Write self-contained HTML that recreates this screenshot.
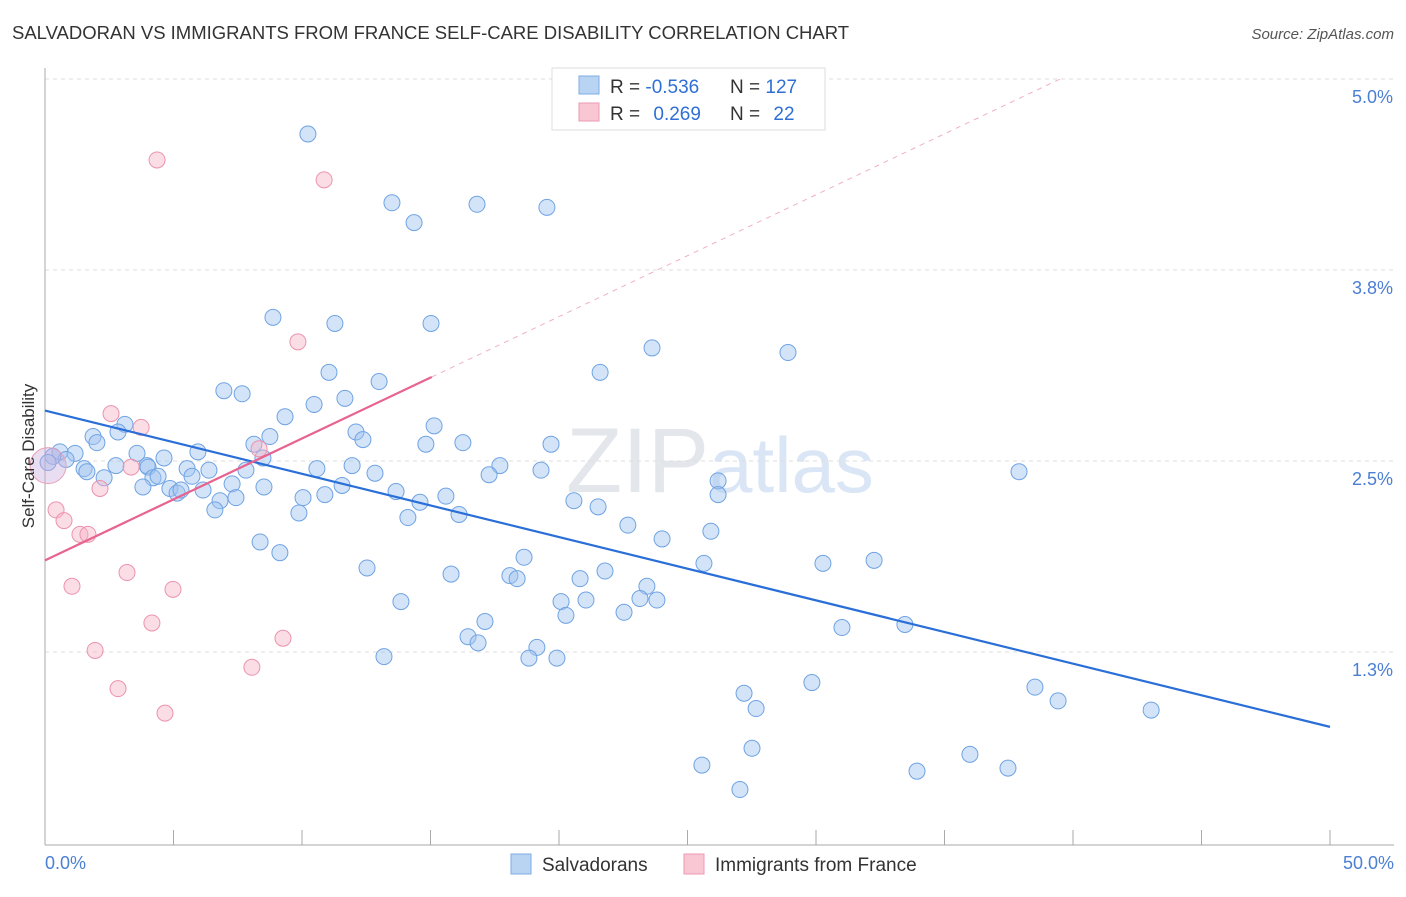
<!DOCTYPE html>
<html><head><meta charset="utf-8"><style>
body{margin:0;background:#fff;font-family:"Liberation Sans",sans-serif;}
svg text{font-family:"Liberation Sans",sans-serif;}
</style></head><body>
<svg id="chart" width="1406" height="892" viewBox="0 0 1406 892" xmlns="http://www.w3.org/2000/svg">
<text x="12" y="39" font-size="18.5" fill="#333">SALVADORAN VS IMMIGRANTS FROM FRANCE SELF-CARE DISABILITY CORRELATION CHART</text>
<text x="1394" y="39" font-size="15" fill="#555" text-anchor="end" font-style="italic">Source: ZipAtlas.com</text>
<text x="720" y="492" font-size="92" fill="#e3e6ea" text-anchor="middle" font-family="Liberation Serif"><tspan>ZIP</tspan><tspan fill="#dae6f5" font-family="Liberation Sans" font-size="78">atlas</tspan></text>
<g id="grid"></g>
<g id="axes"></g>
<g id="pts"></g>
<g id="lines"></g>
<text transform="translate(34,456) rotate(-90)" font-size="17" fill="#333" text-anchor="middle">Self-Care Disability</text>
<text x="45" y="869" font-size="18" fill="#4a7fd4">0.0%</text>
<text x="1394" y="869" font-size="18" fill="#4a7fd4" text-anchor="end">50.0%</text>
<g>
<rect x="552" y="68" width="273" height="62" fill="#fff" stroke="#ddd"/>
<rect x="579" y="76" width="20" height="18" fill="#b9d3f3" stroke="#7eaee6"/>
<rect x="579" y="103" width="20" height="18" fill="#f9c6d4" stroke="#ec9ab2"/>
<text x="610" y="93" font-size="19" fill="#333">R = <tspan fill="#2f6fd6">-0.536</tspan></text>
<text x="730" y="93" font-size="19" fill="#333">N = <tspan fill="#2f6fd6">127</tspan></text>
<text x="610" y="120" font-size="19" fill="#333">R = <tspan fill="#2f6fd6" dx="8">0.269</tspan></text>
<text x="730" y="120" font-size="19" fill="#333">N = <tspan fill="#2f6fd6" dx="8">22</tspan></text>
</g>
<g>
<rect x="511" y="854" width="20" height="20" fill="#b9d3f3" stroke="#7eaee6"/>
<text x="542" y="871" font-size="19" fill="#333">Salvadorans</text>
<rect x="684" y="854" width="20" height="20" fill="#f9c6d4" stroke="#ec9ab2"/>
<text x="715" y="871" font-size="19" fill="#333">Immigrants from France</text>
</g>
</svg>
<script>
const yTicks=[5.0,3.75,2.5,1.25];
const yTickLabels=["5.0%","3.8%","2.5%","1.3%"];
const xTicks=[0,5,10,15,20,25,30,35,40,45,50];
const blueX=[10.23,13.50,16.81,19.53,14.36,8.87,11.28,15.02,23.62,28.91,11.05,13.00,21.60,6.96,7.67,11.67,10.47,9.34,15.14,12.10,12.37,8.75,8.13,14.82,16.26,19.69,3.11,2.84,1.87,2.02,3.58,0.58,1.17,0.82,0.31,0.12,5.95,4.63,8.48,3.97,5.53,4.01,2.76,1.52,1.63,10.58,11.95,17.70,19.30,37.90,7.82,6.38,12.84,17.28,2.30,4.20,4.40,5.72,7.28,3.81,4.86,8.52,11.56,26.19,6.15,5.14,5.29,13.66,10.89,26.19,7.43,10.04,6.81,15.60,14.59,20.58,21.52,6.61,9.88,14.12,16.11,22.68,25.91,24.01,8.37,9.14,18.64,25.64,30.27,32.26,12.53,15.80,18.09,18.37,20.82,21.79,23.42,23.15,23.81,21.05,20.08,13.85,22.53,20.27,31.01,33.46,17.12,16.46,16.85,19.14,13.19,18.83,19.92,29.84,38.52,27.20,39.42,27.67,43.04,27.51,35.99,25.56,33.93,37.47,27.04];
const blueY=[4.64,4.19,4.18,4.16,4.06,3.44,3.40,3.40,3.24,3.21,3.08,3.02,3.08,2.96,2.94,2.91,2.87,2.79,2.73,2.69,2.64,2.66,2.61,2.61,2.62,2.61,2.74,2.69,2.66,2.62,2.55,2.56,2.55,2.51,2.53,2.49,2.56,2.52,2.52,2.47,2.45,2.46,2.47,2.45,2.43,2.45,2.47,2.47,2.44,2.43,2.44,2.44,2.42,2.41,2.39,2.39,2.40,2.40,2.35,2.33,2.32,2.33,2.34,2.37,2.31,2.29,2.31,2.30,2.28,2.28,2.26,2.26,2.24,2.27,2.23,2.24,2.20,2.18,2.16,2.13,2.15,2.08,2.04,1.99,1.97,1.90,1.87,1.83,1.83,1.85,1.80,1.76,1.75,1.73,1.73,1.78,1.68,1.60,1.59,1.59,1.58,1.58,1.51,1.49,1.41,1.43,1.45,1.35,1.31,1.28,1.22,1.21,1.21,1.05,1.02,0.98,0.93,0.88,0.87,0.62,0.58,0.51,0.47,0.49,0.35];
const pinkX=[4.36,10.86,9.84,2.57,3.74,8.33,3.35,2.14,0.43,0.74,1.36,1.67,3.19,1.05,4.98,4.16,9.26,1.95,8.05,2.84,4.67];
const pinkY=[4.47,4.34,3.28,2.81,2.72,2.58,2.46,2.32,2.18,2.11,2.02,2.02,1.77,1.68,1.66,1.44,1.34,1.26,1.15,1.01,0.85];
const pinkBigX=[0.12], pinkBigY=[2.47];
const blueTrend=[[0,2.83],[50,0.76]];
const pinkTrend=[[0,1.85],[15.05,3.05]];
const pinkDash=[[15.05,3.05],[39.5,5.0]];
const X=v=>45+v*25.7, Y=v=>843-v*152.8;
const NS="http://www.w3.org/2000/svg";
function mk(parent,tag,attrs){const e=document.createElementNS(NS,tag);for(const k in attrs)e.setAttribute(k,attrs[k]);document.getElementById(parent).appendChild(e);return e;}
yTicks.forEach((t,i)=>{
 const l=mk('grid','line',{x1:45,x2:1394,y1:Y(t),y2:Y(t),stroke:'#ddd','stroke-dasharray':'4,4'});
 
 
 const tx=mk('grid','text',{x:1393,y:Y(t)+24,'font-size':18,fill:'#4a7fd4','text-anchor':'end'});tx.textContent=yTickLabels[i];
 
 
});
const ax=mk('axes','line',{x1:45,x2:45,y1:68,y2:845,stroke:'#aaa'});


const bx=mk('axes','line',{x1:45,x2:1394,y1:845,y2:845,stroke:'#aaa'});


xTicks.forEach(t=>{const k=mk('axes','line',{x1:X(t),x2:X(t),y1:830,y2:845,stroke:'#aaa'});
 
 });
blueX.forEach((v,i)=>{const c=mk('pts','circle',{cx:X(v),cy:Y(blueY[i]),r:8,fill:'rgba(160,196,240,0.45)',stroke:'#6fa3e3','stroke-width':1});
 
 });
pinkX.forEach((v,i)=>{const c=mk('pts','circle',{cx:X(v),cy:Y(pinkY[i]),r:8,fill:'rgba(246,180,200,0.45)',stroke:'#ec93ae','stroke-width':1});
 
 });
pinkBigX.forEach((v,i)=>{const c=mk('pts','circle',{cx:X(v),cy:Y(pinkBigY[i]),r:18,fill:'rgba(200,170,220,0.4)',stroke:'#e9a0bb','stroke-width':1});
 
 });
const bl=mk('lines','line',{x1:X(blueTrend[0][0]),y1:Y(blueTrend[0][1]),x2:X(blueTrend[1][0]),y2:Y(blueTrend[1][1]),stroke:'#2a6fd8','stroke-width':2.2});


const pl=mk('lines','line',{x1:X(pinkTrend[0][0]),y1:Y(pinkTrend[0][1]),x2:X(pinkTrend[1][0]),y2:Y(pinkTrend[1][1]),stroke:'#e8638f','stroke-width':2.2});


const pd=mk('lines','line',{x1:X(pinkDash[0][0]),y1:Y(pinkDash[0][1]),x2:X(pinkDash[1][0]),y2:Y(pinkDash[1][1]),stroke:'#f0b0c4','stroke-width':1,'stroke-dasharray':'5,5'});


</script>
</body></html>
